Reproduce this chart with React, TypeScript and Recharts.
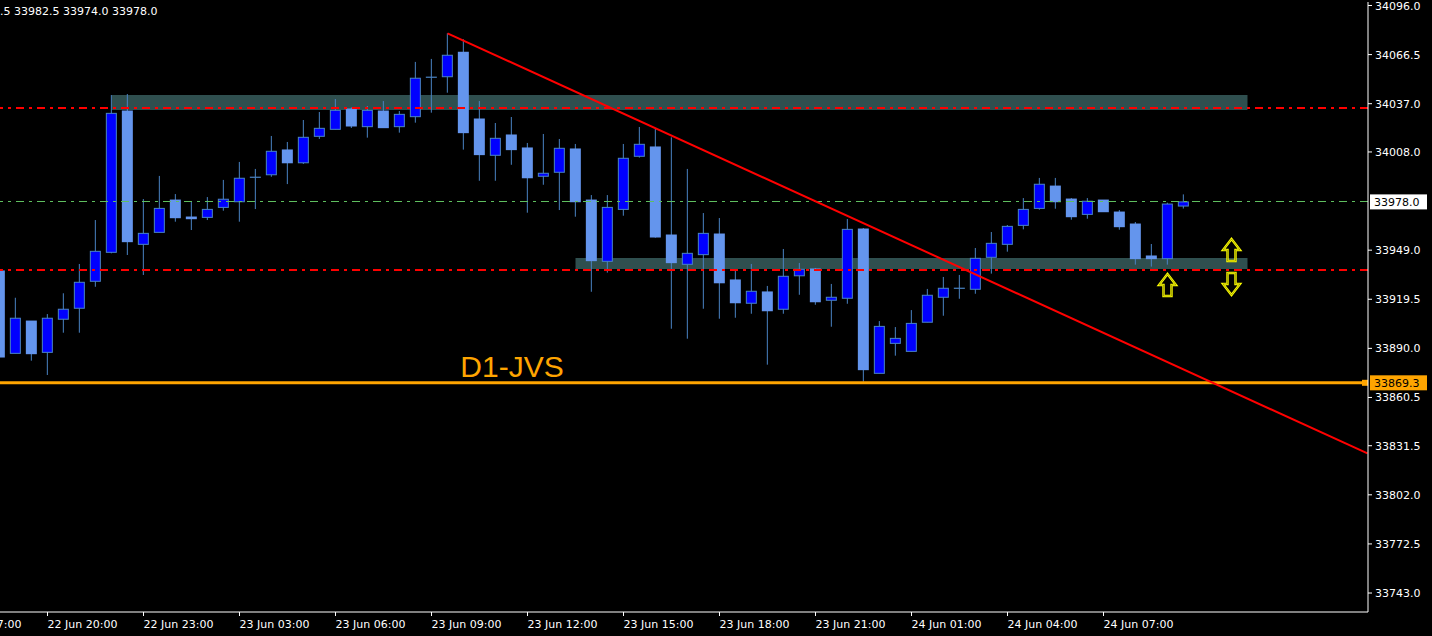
import React from 'react';
import {
  ComposedChart, Bar, XAxis, YAxis, ReferenceLine, ReferenceArea, Scatter
} from 'recharts';

// 30 min candles, first one (index -1) is cut by the left edge
const firstIndex = -1;

const open = [
  33936.5, 33887.0, 33906.4, 33887.6, 33907.5, 33914.1, 33930.3, 33947.7, 34032.6, 33952.5,
  33959.7, 33979.1, 33968.9, 33968.7, 33974.7, 33978.1, 33992.8, 33994.3, 34009.2, 34001.5,
  34017.4, 34021.6, 34033.8, 34023.2, 34032.6, 34023.2, 34029.2, 34052.9, 34053.2, 34067.9,
  34027.8, 34006.0, 34018.2, 34010.4, 33993.4, 33995.8, 34009.8, 33979.1, 33942.3, 33973.5,
  34005.4, 34011.0, 33958.1, 33940.5, 33946.3, 33958.7, 33931.1, 33917.1, 33923.9, 33913.5,
  33933.6, 33937.7, 33918.9, 33920.1, 33961.7, 33875.0, 33893.0, 33888.2, 33905.7, 33920.7,
  33926.1, 33925.5, 33944.7, 33952.5, 33963.9, 33974.1, 33987.5, 33979.7, 33970.5, 33979.1,
  33971.9, 33964.7, 33945.5, 33943.9, 33975.5,
];
const high = [
  33937.0, 33920.4, 33906.4, 33910.6, 33923.1, 33940.7, 33967.1, 34042.2, 34042.8, 33979.7,
  33993.6, 33982.7, 33977.9, 33980.9, 33991.2, 34002.0, 33997.8, 34017.6, 34014.0, 34027.2,
  34032.0, 34039.8, 34034.8, 34035.6, 34038.6, 34032.6, 34062.1, 34063.9, 34079.3, 34075.7,
  34038.6, 34025.4, 34029.0, 34013.4, 34018.8, 34015.8, 34012.8, 33982.1, 33982.1, 34012.8,
  34023.0, 34022.0, 34016.8, 33997.8, 33971.3, 33968.3, 33937.1, 33940.7, 33927.5, 33949.7,
  33941.3, 33938.3, 33928.7, 33967.7, 33962.3, 33906.4, 33902.8, 33913.0, 33925.7, 33932.9,
  33934.1, 33950.3, 33959.9, 33964.1, 33980.3, 33992.4, 33992.4, 33980.3, 33980.3, 33979.1,
  33973.1, 33965.9, 33952.7, 33977.5, 33982.5,
];
const low = [
  33883.0, 33887.0, 33882.6, 33874.0, 33899.4, 33899.4, 33927.0, 33947.1, 33946.1, 33934.1,
  33959.7, 33966.1, 33961.1, 33967.1, 33972.7, 33966.1, 33973.7, 33993.1, 33988.7, 34000.8,
  34015.8, 34021.6, 34022.4, 34016.6, 34022.6, 34019.6, 34025.6, 34031.6, 34043.6, 34009.4,
  33990.7, 33990.7, 34000.3, 33971.5, 33988.3, 33973.1, 33969.1, 33924.0, 33935.5, 33969.7,
  34004.6, 33956.5, 33901.8, 33895.8, 33913.8, 33907.8, 33908.4, 33910.8, 33880.2, 33910.8,
  33922.2, 33916.2, 33903.0, 33916.8, 33870.0, 33875.0, 33885.6, 33888.2, 33905.7, 33909.6,
  33919.8, 33922.8, 33934.9, 33948.1, 33961.5, 33973.3, 33973.9, 33967.3, 33967.9, 33972.1,
  33961.3, 33940.3, 33939.1, 33940.3, 33974.0,
];
const close = [
  33884.8, 33908.1, 33886.8, 33908.1, 33913.5, 33929.7, 33948.3, 34031.2, 33954.1, 33959.1,
  33974.1, 33968.5, 33967.9, 33973.5, 33979.6, 33992.2, 33992.8, 34008.4, 34001.5, 34016.8,
  34022.2, 34033.0, 34023.6, 34033.0, 34022.6, 34030.6, 34052.3, 34052.9, 34066.1, 34019.6,
  34006.4, 34016.2, 34009.4, 33992.5, 33995.2, 34010.2, 33978.1, 33942.7, 33974.7, 34004.2,
  34012.6, 33956.9, 33941.5, 33947.1, 33959.1, 33929.4, 33917.4, 33924.3, 33912.6, 33933.3,
  33937.5, 33918.0, 33920.7, 33961.5, 33877.2, 33903.2, 33896.0, 33905.0, 33921.9, 33926.1,
  33926.1, 33944.1, 33953.1, 33963.3, 33973.5, 33988.6, 33978.1, 33969.1, 33978.4, 33972.1,
  33963.1, 33943.9, 33943.9, 33976.7, 33978.0,
];

const timeTicks = [-4, 2, 8, 14, 20, 26, 32, 38, 44, 50, 56, 62, 68];
const timeLabels = [
  '22 Jun 17:00', '22 Jun 20:00', '22 Jun 23:00', '23 Jun 03:00', '23 Jun 06:00',
  '23 Jun 09:00', '23 Jun 12:00', '23 Jun 15:00', '23 Jun 18:00', '23 Jun 21:00',
  '24 Jun 01:00', '24 Jun 04:00', '24 Jun 07:00',
];

const priceTicks = [
  34096.0, 34066.5, 34037.0, 34008.0, 33949.0, 33919.5, 33890.0,
  33860.5, 33831.5, 33802.0, 33772.5, 33743.0,
];

const xDomain = [-0.96875, 84.53125];
const yDomain = [33731.6, 34098.1];

const upperZone = { from: 6, to: 77, bottom: 34033.2, top: 34042.2 };
const lowerZone = { from: 35, to: 77, bottom: 33937.7, top: 33944.3 };
const redLevels = [34034.4, 33937.1];
const bidPrice = 33978.0;
const d1Level = 33869.3;
const trendLine = [{ i: 27, p: 34079.3 }, { i: 84.5, p: 33826.9 }];
const arrows = [
  { i: 72, p: 33934.7, dir: 'up' },
  { i: 76, p: 33955.7, dir: 'up' },
  { i: 76, p: 33935.3, dir: 'down' },
];
const notes = [{ i: 27.8, p: 33872.8, text: 'D1-JVS' }];
const headerText = '.5 33982.5 33974.0 33978.0';

const candles = open.map((o, k) => ({
  i: firstIndex + k,
  open: o,
  high: high[k],
  low: low[k],
  close: close[k],
}));

const BULL = '#0000FF';
const BEAR = '#6495ED';
const WICK = '#4A84C4';
const FONT = '"DejaVu Sans", Tahoma, sans-serif';

const Candle = (props: any) => {
  const { x, y, width, height, payload } = props;
  if (!payload || height == null) return null;
  const top = Math.min(y, y + height);
  const span = Math.abs(height);
  const range = payload.high - payload.low;
  const px = (v: number) => (range > 0 ? top + ((payload.high - v) / range) * span : top);
  const cx = x + width / 2;
  const po = px(payload.open);
  const pc = px(payload.close);
  const bodyTop = Math.min(po, pc);
  const bodyH = Math.abs(po - pc);
  let body;
  if (payload.open === payload.close) {
    body = <line x1={cx - 5.5} x2={cx + 5.5} y1={po} y2={po} stroke={WICK} strokeWidth={1.2} />;
  } else if (payload.close > payload.open) {
    body = (
      <rect x={cx - 5} y={bodyTop} width={10} height={Math.max(bodyH, 1)}
        fill={BULL} stroke={WICK} strokeWidth={1} />
    );
  } else {
    body = (
      <rect x={cx - 5.5} y={bodyTop - 0.5} width={11} height={Math.max(bodyH + 1, 2)} fill={BEAR} />
    );
  }
  return (
    <g>
      <line x1={cx} x2={cx} y1={top} y2={top + span} stroke={WICK} strokeWidth={1} />
      {body}
    </g>
  );
};

const ArrowMark = (props: any) => {
  const { cx, cy, payload } = props;
  if (cx == null || cy == null) return null;
  const pts = payload.dir === 'up'
    ? [[0, 0], [8.5, 11], [4, 11], [4, 22], [-4, 22], [-4, 11], [-8.5, 11]]
    : [[-4, 0], [4, 0], [4, 11], [8.5, 11], [0, 22], [-8.5, 11], [-4, 11]];
  const str = pts.map(([a, b]) => `${cx + a},${cy + b}`).join(' ');
  return (
    <g>
      <polygon points={str} fill="none" stroke="#FFFF00" strokeWidth={2.4} strokeLinejoin="miter" />
      <polygon points={str} fill="none" stroke="#7a7a00" strokeWidth={0.6} />
    </g>
  );
};

const NoteText = (props: any) => {
  const { cx, cy, payload } = props;
  if (cx == null || cy == null) return null;
  return (
    <text x={cx} y={cy} fill="#FFA500" fontSize={30}
      fontFamily='"Liberation Sans", Arial, sans-serif'>
      {payload.text}
    </text>
  );
};

const priceBox = (value: number, bg: string, marker: boolean) => (p: any) => {
  const vb = p.viewBox || {};
  const right = (vb.x || 0) + (vb.width || 0);
  const cy = vb.y || 0;
  return (
    <g>
      {marker && <rect x={right - 6} y={cy - 3} width={6} height={6} fill={bg} />}
      <rect x={right + 2} y={cy - 7.5} width={57} height={15} fill={bg} />
      <text x={right + 6} y={cy + 4} fontSize={11} fontFamily={FONT} fill="#000">
        {value.toFixed(1)}
      </text>
    </g>
  );
};

const TimeTick = (props: any) => {
  const { x, y, payload } = props;
  const k = timeTicks.indexOf(payload.value);
  return (
    <text x={x} y={y + 10} fontSize={11} fontFamily={FONT} fill="#FFFFFF" textAnchor="start">
      {timeLabels[k]}
    </text>
  );
};

const PriceTick = (props: any) => {
  const { x, y, payload } = props;
  return (
    <text x={x + 1} y={y + 4} fontSize={11} fontFamily={FONT} fill="#FFFFFF" textAnchor="start">
      {Number(payload.value).toFixed(1)}
    </text>
  );
};

const dashDot = '8 5 3 5';

export default function App() {
  return (
    <div style={{ position: 'absolute', left: 0, top: 0, width: 1432, height: 636, background: '#000', overflow: 'hidden' }}>
      <ComposedChart width={1432} height={636} data={candles}
        margin={{ top: 2, right: 0, bottom: 0, left: 0 }}>
        <XAxis xAxisId="top" orientation="top" type="number" dataKey="i" domain={xDomain}
          allowDataOverflow height={0} tick={false} tickLine={false}
          axisLine={{ stroke: '#FFFFFF' }} />
        <XAxis type="number" dataKey="i" domain={xDomain} allowDataOverflow
          ticks={timeTicks} interval={0} height={24} tickSize={4} tickMargin={2}
          axisLine={{ stroke: '#FFFFFF' }} tickLine={{ stroke: '#FFFFFF' }} tick={<TimeTick />} />
        <YAxis orientation="right" type="number" domain={yDomain} allowDataOverflow
          ticks={priceTicks} interval={0} width={64} tickSize={4} tickMargin={2}
          axisLine={{ stroke: '#FFFFFF' }} tickLine={{ stroke: '#FFFFFF' }} tick={<PriceTick />} />

        <ReferenceArea x1={upperZone.from} x2={upperZone.to} y1={upperZone.bottom} y2={upperZone.top}
          fill="#2F4F4F" fillOpacity={1} stroke="none" />
        <ReferenceArea x1={lowerZone.from} x2={lowerZone.to} y1={lowerZone.bottom} y2={lowerZone.top}
          fill="#2F4F4F" fillOpacity={1} stroke="none" />

        {redLevels.map((v) => (
          <ReferenceLine key={v} y={v} stroke="#FF0000" strokeWidth={1.3} strokeDasharray={dashDot}
            shapeRendering="crispEdges" />
        ))}
        <ReferenceLine y={bidPrice} stroke="#5FBF5F" strokeWidth={1.2} strokeDasharray={dashDot}
          shapeRendering="crispEdges" label={priceBox(bidPrice, '#FFFFFF', false)} />
        <ReferenceLine y={d1Level} stroke="#FFA500" strokeWidth={3}
          label={priceBox(d1Level, '#FFA500', true)} />

        <Bar dataKey={(d: any) => [d.low, d.high]} barSize={11} shape={<Candle />}
          isAnimationActive={false} />

        <ReferenceLine segment={[{ x: trendLine[0].i, y: trendLine[0].p }, { x: trendLine[1].i, y: trendLine[1].p }]}
          stroke="#FF0000" strokeWidth={2} />

        <Scatter data={arrows} dataKey="p" shape={<ArrowMark />} isAnimationActive={false} />
        <Scatter data={notes} dataKey="p" shape={<NoteText />} isAnimationActive={false} />
      </ComposedChart>
      <div style={{ position: 'absolute', left: 0, top: 5, fontSize: 11, fontFamily: FONT, color: '#FFFFFF', whiteSpace: 'pre' }}>
        {headerText}
      </div>
    </div>
  );
}
